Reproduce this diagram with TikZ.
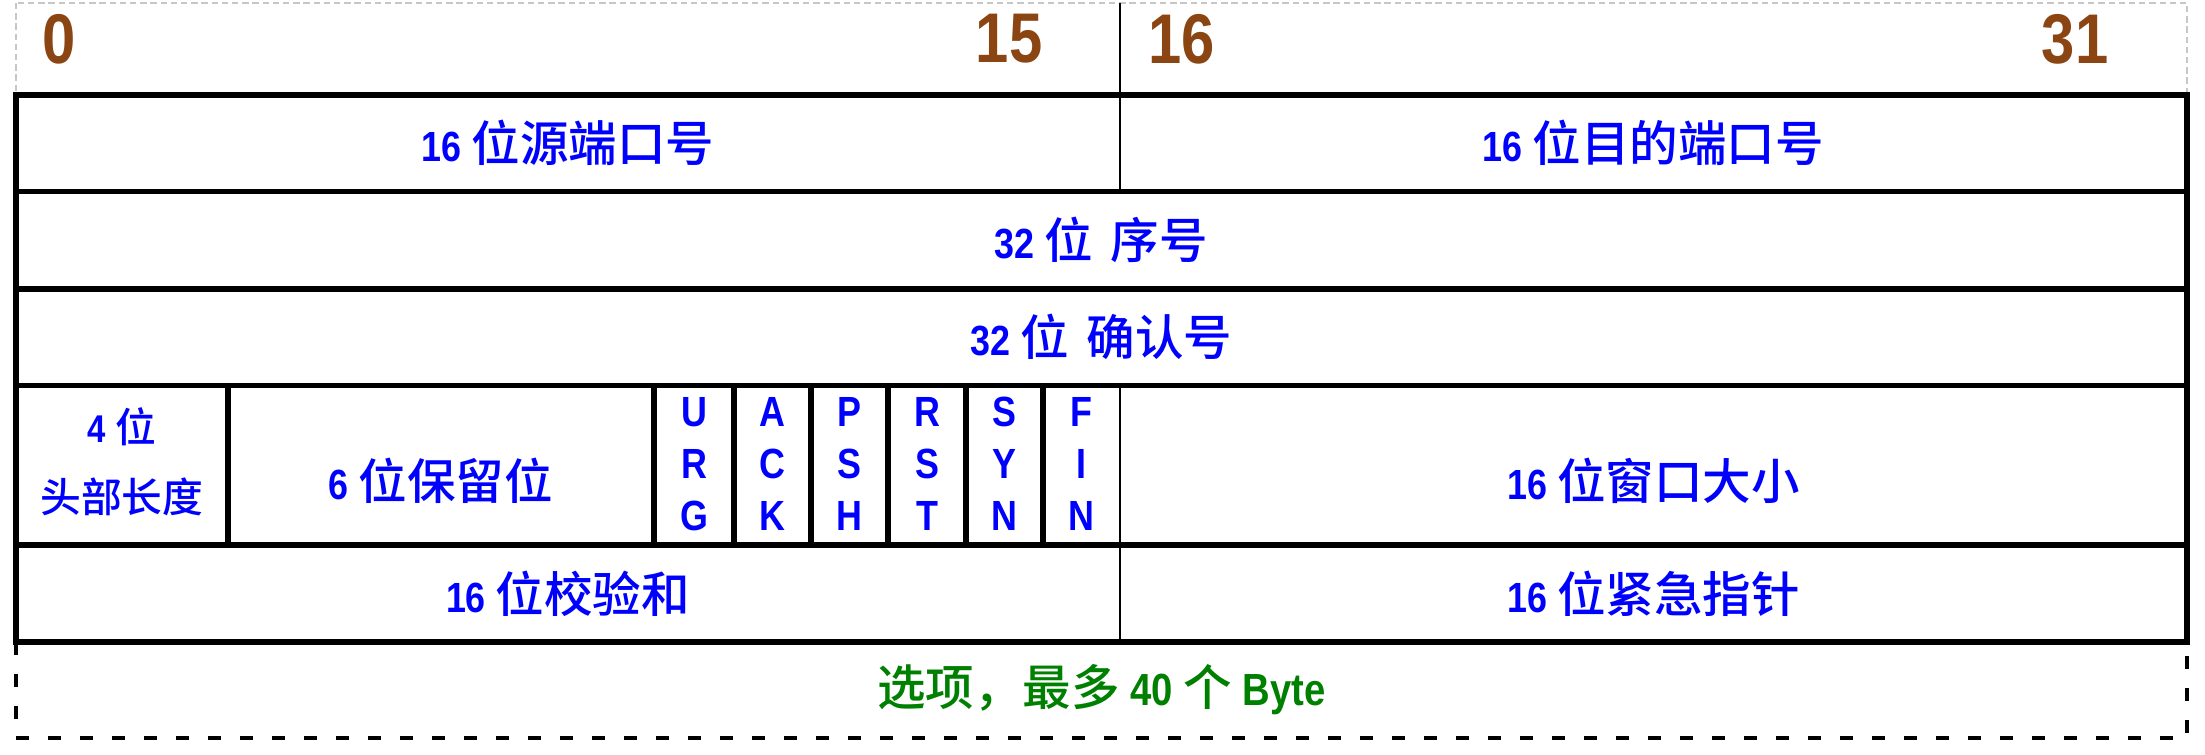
\documentclass[tikz,border=0pt]{standalone}
\usepackage{fontspec}
\usepackage{xcolor}
\newfontfamily\latb{Liberation Sans Bold}[FakeStretch=0.85]
\newfontfamily\cjk{Noto Sans CJK SC Medium}
\definecolor{bitbrown}{RGB}{139,69,19}
\definecolor{fieldblue}{RGB}{0,0,255}
\definecolor{optgreen}{RGB}{0,128,0}
\newcommand{\zh}[1]{{\cjk\fontsize{13.8pt}{16pt}\selectfont #1}}
\newcommand{\zhsmall}[1]{{\cjk\fontsize{11.6pt}{14pt}\selectfont #1}}
\tikzset{
    field/.style={text=fieldblue, font=\latb\fontsize{12pt}{14.8pt}\selectfont, align=center, inner sep=0pt},
    bitno/.style={text=bitbrown, font=\latb\fontsize{20pt}{24pt}\selectfont, inner sep=0pt},
    heavy/.style={line width=1.6pt},
    light/.style={line width=0.75pt},
}

\begin{document}
\begin{tikzpicture}[x=0.01cm, y=-0.01cm]
    \useasboundingbox (0,0) rectangle (2205,755);
    \draw[line width=0.55pt, black!22, dash pattern=on 1.8pt off 1.1pt] (16,3) rectangle (2187,95);
    \draw[light] (1120,3) -- (1120,95);
    \node[bitno, anchor=west] (bit0) at (42,39) {0};
    \node[bitno, anchor=east] (bit15) at (1043,39) {15};
    \node[bitno, anchor=west] (bit16) at (1148,39) {16};
    \node[bitno, anchor=east] (bit31) at (2109,39) {31};
    \draw[heavy] (16,95) rectangle (2187,642);
    \foreach \y in {191.5,289,385.5,545}
        \draw[heavy] (16,\y) -- (2187,\y);
    \draw[light] (1120,95) -- (1120,191.5);
    \draw[light] (1120,385.5) -- (1120,642);
    \foreach \x in {228,654,734,811,888,966,1043}
        \draw[heavy] (\x,385.5) -- (\x,545);
    \draw[line width=1.15pt, dash pattern=on 3.8pt off 5.3pt] (16,642) -- (16,738) -- (2187,738) -- (2187,642);
    \node[field] (srcport) at (568,143) {16 \zh{位源端口号}};
    \node[field] (dstport) at (1653.5,143) {16 \zh{位目的端口号}};
    \node[field] (seqno) at (1101.5,240) {32 \zh{位}\hspace{5pt}\zh{序号}};
    \node[field] (ackno) at (1101.5,337) {32 \zh{位}\hspace{5pt}\zh{确认号}};
    \node[field, font=\latb\fontsize{11pt}{19.9pt}\selectfont] (hdrlen) at (122,462) {4 \zhsmall{位}\\\zhsmall{头部长度}};
    \node[field] (reserved) at (441,481) {6 \zh{位保留位}};
    \foreach \x/\f [count=\i] in {694/U\\R\\G, 772.5/A\\C\\K, 849.5/P\\S\\H, 927/R\\S\\T, 1004.5/S\\Y\\N, 1081.5/F\\I\\N}
        \node[field] (flag\i) at (\x,464) {\f};
    \node[field] (window) at (1653.5,481) {16 \zh{位窗口大小}};
    \node[field] (checksum) at (568,593.5) {16 \zh{位校验和}};
    \node[field] (urgptr) at (1653.5,593.5) {16 \zh{位紧急指针}};
    \node[field, text=optgreen, font=\latb\fontsize{12.8pt}{14.8pt}\selectfont] (options) at (1101.5,690) {\zh{选项，最多} 40 \zh{个} Byte};
\end{tikzpicture}
\end{document}
